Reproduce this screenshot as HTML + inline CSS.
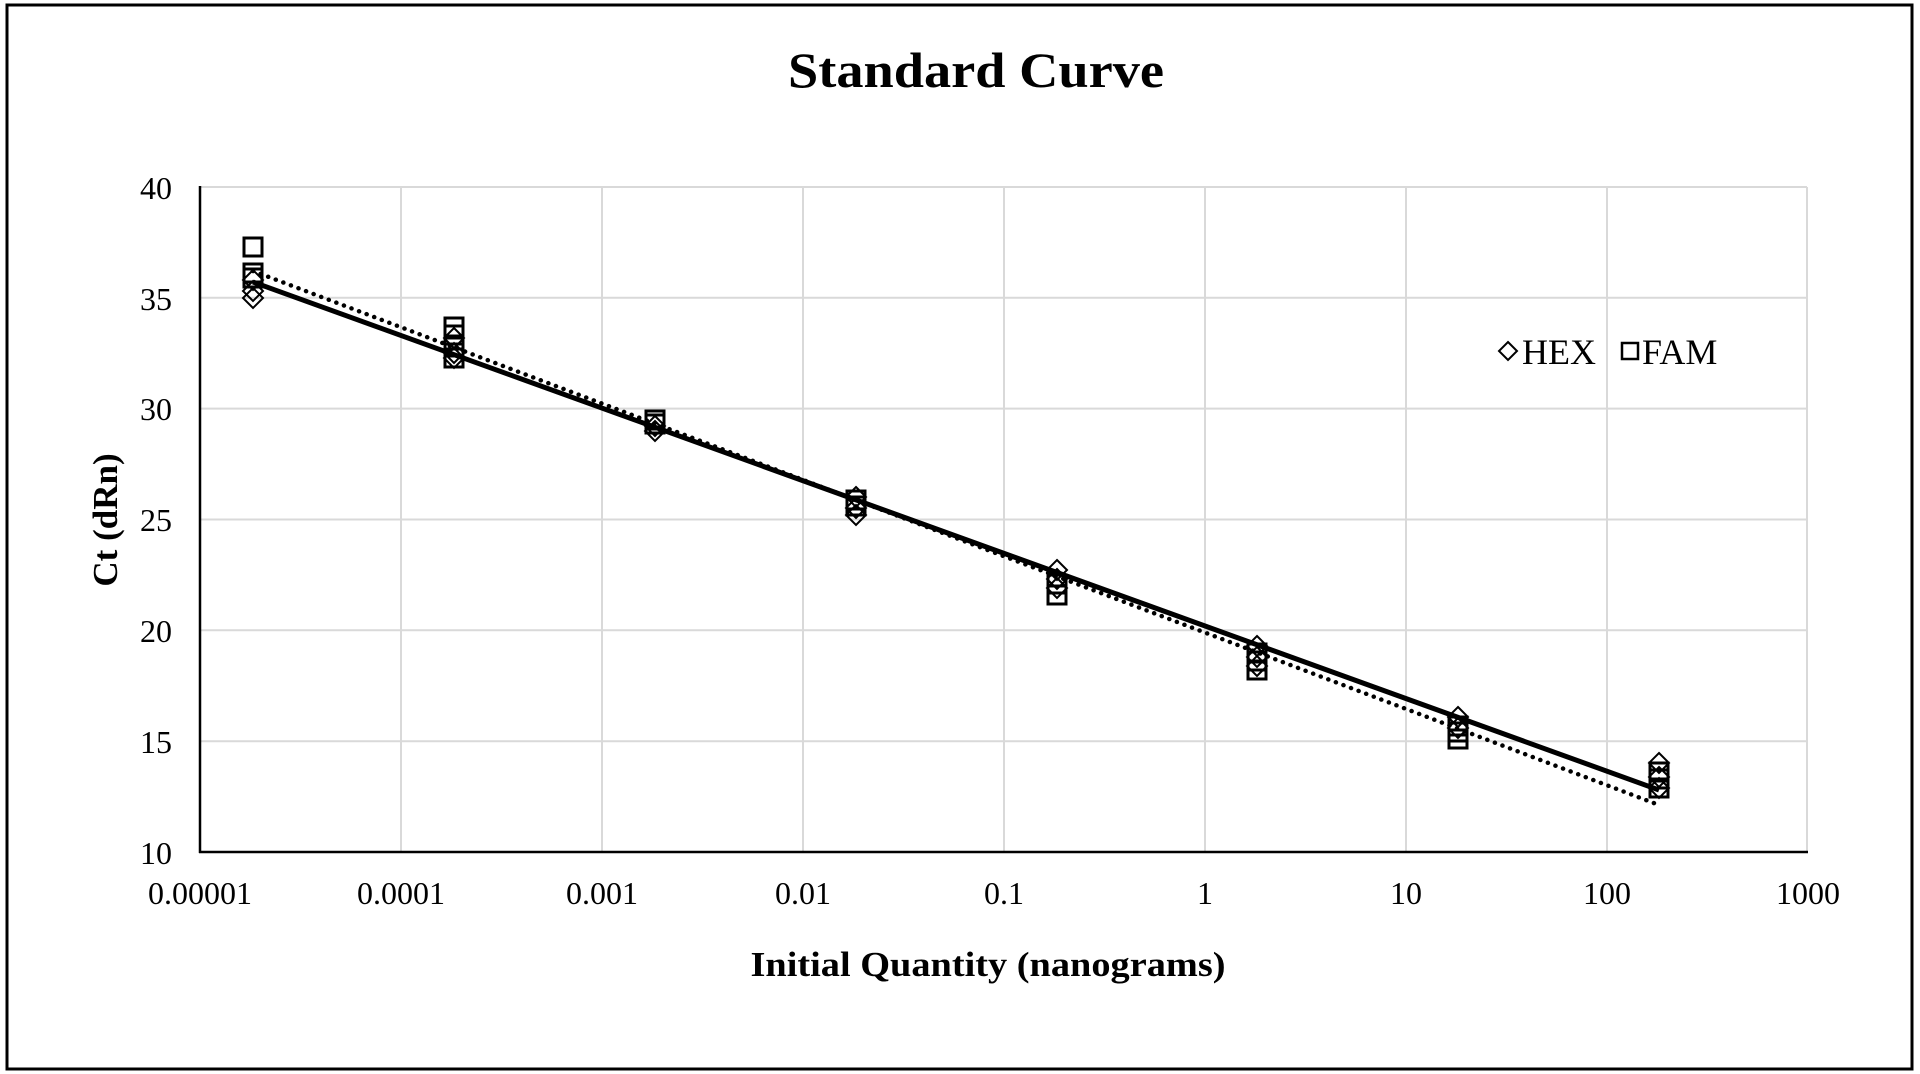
<!DOCTYPE html>
<html><head><meta charset="utf-8"><style>
html,body{margin:0;padding:0;background:#fff}
svg{display:block}
text{font-family:"Liberation Serif",serif;fill:#000}
</style></head><body>
<svg width="1920" height="1074" viewBox="0 0 1920 1074" xmlns="http://www.w3.org/2000/svg">
<defs>
<rect id="s" x="-9" y="-9" width="18" height="18" fill="none" stroke="#000" stroke-width="3"/>
<polygon id="d" points="0,-10 10,0 0,10 -10,0" fill="none" stroke="#000" stroke-width="2"/>
</defs>
<rect x="7" y="5" width="1905" height="1064" fill="#fff" stroke="#000" stroke-width="3"/>
<text x="976" y="87" font-size="50" font-weight="bold" text-anchor="middle" textLength="376" lengthAdjust="spacingAndGlyphs">Standard Curve</text>
<g stroke="#d9d9d9" stroke-width="2">
<line x1="200" y1="187" x2="1807" y2="187"/><line x1="200" y1="297.8" x2="1807" y2="297.8"/>
<line x1="200" y1="408.6" x2="1807" y2="408.6"/><line x1="200" y1="519.5" x2="1807" y2="519.5"/>
<line x1="200" y1="630.3" x2="1807" y2="630.3"/><line x1="200" y1="741.2" x2="1807" y2="741.2"/>
<line x1="401" y1="187" x2="401" y2="852"/><line x1="602" y1="187" x2="602" y2="852"/>
<line x1="803" y1="187" x2="803" y2="852"/><line x1="1004" y1="187" x2="1004" y2="852"/>
<line x1="1205" y1="187" x2="1205" y2="852"/><line x1="1406" y1="187" x2="1406" y2="852"/>
<line x1="1607" y1="187" x2="1607" y2="852"/><line x1="1807" y1="187" x2="1807" y2="852"/>
</g>
<line x1="200" y1="186" x2="200" y2="853" stroke="#000" stroke-width="2.5"/>
<line x1="199" y1="852" x2="1808" y2="852" stroke="#000" stroke-width="2.5"/>
<g font-size="32" text-anchor="end">
<text x="172" y="199">40</text><text x="172" y="310">35</text><text x="172" y="420">30</text>
<text x="172" y="531">25</text><text x="172" y="642">20</text><text x="172" y="753">15</text><text x="172" y="864">10</text>
</g>
<g font-size="32" text-anchor="middle">
<text x="200" y="904">0.00001</text><text x="401" y="904">0.0001</text><text x="602" y="904">0.001</text>
<text x="803" y="904">0.01</text><text x="1004" y="904">0.1</text><text x="1205" y="904">1</text>
<text x="1406" y="904">10</text><text x="1607" y="904">100</text><text x="1808" y="904">1000</text>
</g>
<text x="988" y="976" font-size="35" font-weight="bold" text-anchor="middle" textLength="475" lengthAdjust="spacingAndGlyphs">Initial Quantity (nanograms)</text>
<text transform="translate(117,520) rotate(-90)" font-size="35" font-weight="bold" text-anchor="middle">Ct (dRn)</text>
<line x1="253" y1="271" x2="1659" y2="805" stroke="#000" stroke-width="4.5" stroke-dasharray="0.1,8" stroke-linecap="round"/>
<line x1="253" y1="282" x2="1659" y2="790" stroke="#000" stroke-width="5"/>
<g>
<use href="#s" x="253" y="247"/><use href="#s" x="253" y="273"/><use href="#s" x="253" y="278"/>
<use href="#d" x="253" y="280"/><use href="#d" x="253" y="291"/><use href="#d" x="253" y="298"/>
<use href="#s" x="454" y="327"/><use href="#s" x="454" y="335"/><use href="#s" x="454" y="347"/><use href="#s" x="454" y="358"/>
<use href="#d" x="454" y="338"/><use href="#d" x="454" y="353"/><use href="#d" x="454" y="358"/>
<use href="#s" x="655" y="420"/><use href="#s" x="655" y="424"/><use href="#d" x="655" y="426"/><use href="#d" x="655" y="431"/>
<use href="#s" x="856" y="500"/><use href="#s" x="856" y="506"/><use href="#d" x="856" y="497"/><use href="#d" x="856" y="508"/><use href="#d" x="856" y="515"/>
<use href="#s" x="1057" y="595"/><use href="#s" x="1057" y="584"/><use href="#d" x="1057" y="570"/><use href="#d" x="1057" y="579"/><use href="#d" x="1057" y="588"/>
<use href="#s" x="1257" y="670"/><use href="#s" x="1257" y="661"/><use href="#s" x="1257" y="653"/><use href="#d" x="1257" y="646"/><use href="#d" x="1257" y="657"/><use href="#d" x="1257" y="666"/>
<use href="#s" x="1458" y="739"/><use href="#s" x="1458" y="732"/><use href="#s" x="1458" y="726"/><use href="#d" x="1458" y="717"/><use href="#d" x="1458" y="728"/>
<use href="#s" x="1659" y="788"/><use href="#s" x="1659" y="779"/><use href="#s" x="1659" y="772"/><use href="#d" x="1659" y="763"/><use href="#d" x="1659" y="777"/><use href="#d" x="1659" y="788"/>
</g>
<polygon points="1508,342 1517,351 1508,360 1499,351" fill="none" stroke="#000" stroke-width="2"/>
<text x="1522" y="364" font-size="36">HEX</text>
<rect x="1622" y="343" width="16" height="16" fill="none" stroke="#000" stroke-width="2.5"/>
<text x="1642" y="364" font-size="36">FAM</text>
</svg>
</body></html>
